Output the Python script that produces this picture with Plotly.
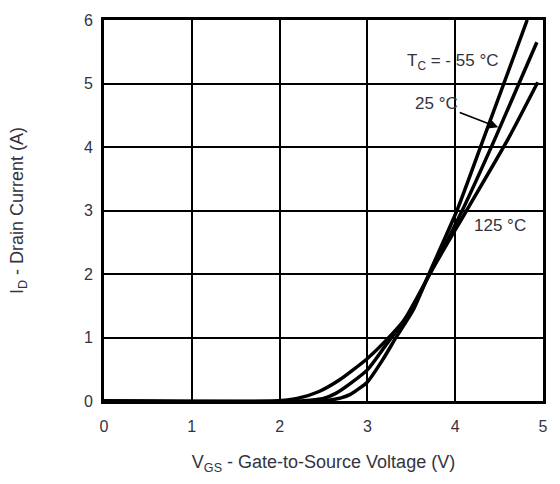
import plotly.graph_objects as go

# transfer characteristics
vgs_m55 = [0, 2.5, 2.6, 2.7, 2.8, 2.9, 3.0, 3.17, 3.33, 3.52, 3.71, 4.02, 4.32, 4.82]
id_m55 = [0, 0, 0.02, 0.05, 0.1, 0.19, 0.30, 0.64, 1.01, 1.43, 2.03, 3.0, 4.12, 6.0]

vgs_25 = [0, 2.25, 2.4, 2.5, 2.64, 2.8, 3.0, 3.2, 3.43, 3.71, 4.08, 4.45, 4.93]
id_25 = [0, 0, 0.02, 0.04, 0.12, 0.27, 0.49, 0.86, 1.3, 2.0, 3.0, 4.12, 5.65]

vgs_125 = [0, 1.95, 2.2, 2.45, 2.68, 3.0, 3.25, 3.48, 3.71, 4.13, 4.6, 4.94]
id_125 = [0, 0, 0.04, 0.15, 0.33, 0.67, 1.01, 1.38, 2.0, 3.0, 4.12, 5.02]

x_ticks = [0, 1, 2, 3, 4, 5]
y_ticks = [0, 1, 2, 3, 4, 5, 6]

font = "Liberation Sans, Arial, sans-serif"
txt = "#33333d"

fig = go.Figure()
for xs, ys, name in [(vgs_m55, id_m55, "-55"), (vgs_25, id_25, "25"), (vgs_125, id_125, "125")]:
    fig.add_trace(go.Scatter(x=xs, y=ys, name=name, mode="lines",
                             line=dict(color="black", width=3.5, shape="spline", smoothing=0.6)))

fig.add_annotation(x=3.97, y=5.34, text="T<sub>C</sub> = - 55 °C", showarrow=False,
                   font=dict(size=17, color=txt, family=font))
fig.add_annotation(x=4.49, y=4.31, ax=3.79, ay=4.68, axref="x", ayref="y",
                   text="25 °C", showarrow=True, arrowhead=2, arrowsize=1.2,
                   arrowwidth=1.6, arrowcolor="black", standoff=0, startstandoff=0,
                   font=dict(size=17, color=txt, family=font))
fig.add_annotation(x=4.51, y=2.77, text="125 °C", showarrow=False,
                   font=dict(size=17, color=txt, family=font))

fig.update_layout(
    width=560, height=484,
    margin=dict(l=104, r=17, t=20, b=83),
    paper_bgcolor="white", plot_bgcolor="white",
    showlegend=False,
    font=dict(family=font, size=15, color=txt),
    xaxis=dict(range=[0, 5], tickvals=x_ticks, showgrid=True, gridcolor="black", gridwidth=1.5,
               zeroline=False, showline=True, linecolor="black", linewidth=3, mirror=True,
               ticks="", ticklabelstandoff=9, tickfont=dict(size=16),
               title=dict(text="V<sub>GS</sub> - Gate-to-Source Voltage (V)", standoff=22)),
    yaxis=dict(range=[0, 6], tickvals=y_ticks, showgrid=True, gridcolor="black", gridwidth=1.5,
               zeroline=False, showline=True, linecolor="black", linewidth=3, mirror=True,
               ticks="", ticklabelstandoff=5, tickfont=dict(size=16),
               title=dict(text="I<sub>D</sub> - Drain Current (A)", standoff=56)),
)

fig.write_html("out.html", config={"displayModeBar": False},
               post_script="document.body.style.margin='0px';")
